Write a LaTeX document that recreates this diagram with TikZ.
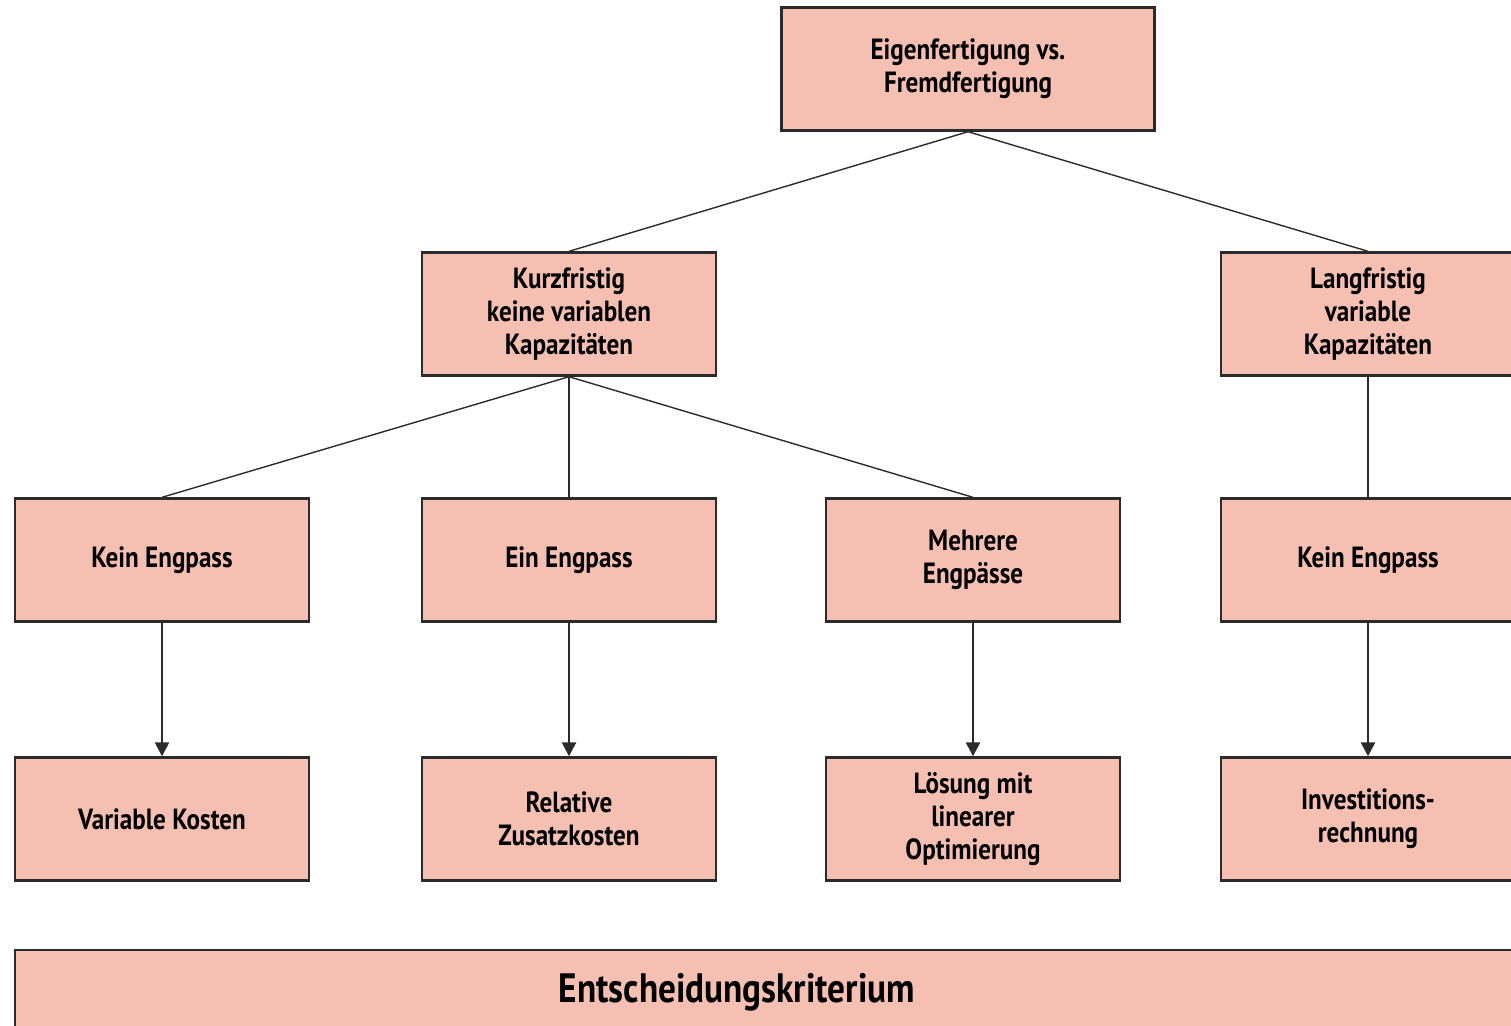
\documentclass[tikz,border=0pt]{standalone}
\usepackage{fontspec}
\setmainfont{PT Sans}[FakeStretch=0.86]
\usetikzlibrary{arrows.meta,positioning}
\definecolor{boxfill}{HTML}{F5C0B2}
\definecolor{boxline}{HTML}{2B2B2B}

\begin{document}
\begin{tikzpicture}[
    x=0.5pt, y=-0.5pt,
    box/.style={draw=boxline, line width=1.2pt, fill=boxfill, minimum width=147pt,
                minimum height=61.5pt, align=center, inner sep=2pt,
                font=\bfseries\fontsize{14.6}{16.5}\selectfont},
    link/.style={draw=boxline, line width=0.7pt},
    arrow/.style={-{Triangle[length=7pt, width=7pt]}, line width=1.3pt, draw=boxline}
]
\useasboundingbox (0,0) rectangle (1511,1025);
% top level
\node[box, minimum width=186.5pt] (root) at (968,69) {Eigenfertigung vs.\\Fremdfertigung};
\node[box] (short) at (569,314) {Kurzfristig\\keine variablen\\Kapazitäten};
\node[box] (long) at (1368,314) {Langfristig\\variable\\Kapazitäten};
% cases
\node[box] (none) at (162,560) {Kein Engpass};
\node[box] (one) at (569,560) {Ein Engpass};
\node[box] (many) at (973,560) {Mehrere\\Engpässe};
\node[box] (nonelong) at (1368,560) {Kein Engpass};
% criteria
\node[box] (varcost) at (162,819) {Variable Kosten};
\node[box] (relcost) at (569,819) {Relative\\Zusatzkosten};
\node[box] (linopt) at (973,819) {Lösung mit\\linearer\\Optimierung};
\node[box] (invest) at (1368,819) {Investitions-\\rechnung};
% bottom bar
\node[box, minimum width=750pt, minimum height=40pt] (crit) at (765,990) {};
\node[font=\bfseries\fontsize{20.5}{24}\selectfont] (critlabel) at (737,992) {Entscheidungskriterium};
\draw[link] (root.south) -- (short.north);
\draw[link] (root.south) -- (long.north);
\draw[link] (short.south) -- (none.north);
\draw[link] (short.south) -- (one.north);
\draw[link] (short.south) -- (many.north);
\draw[link] (long.south) -- (nonelong.north);
\draw[arrow] (none) -- (varcost);
\draw[arrow] (one) -- (relcost);
\draw[arrow] (many) -- (linopt);
\draw[arrow] (nonelong) -- (invest);
\end{tikzpicture}
\end{document}
